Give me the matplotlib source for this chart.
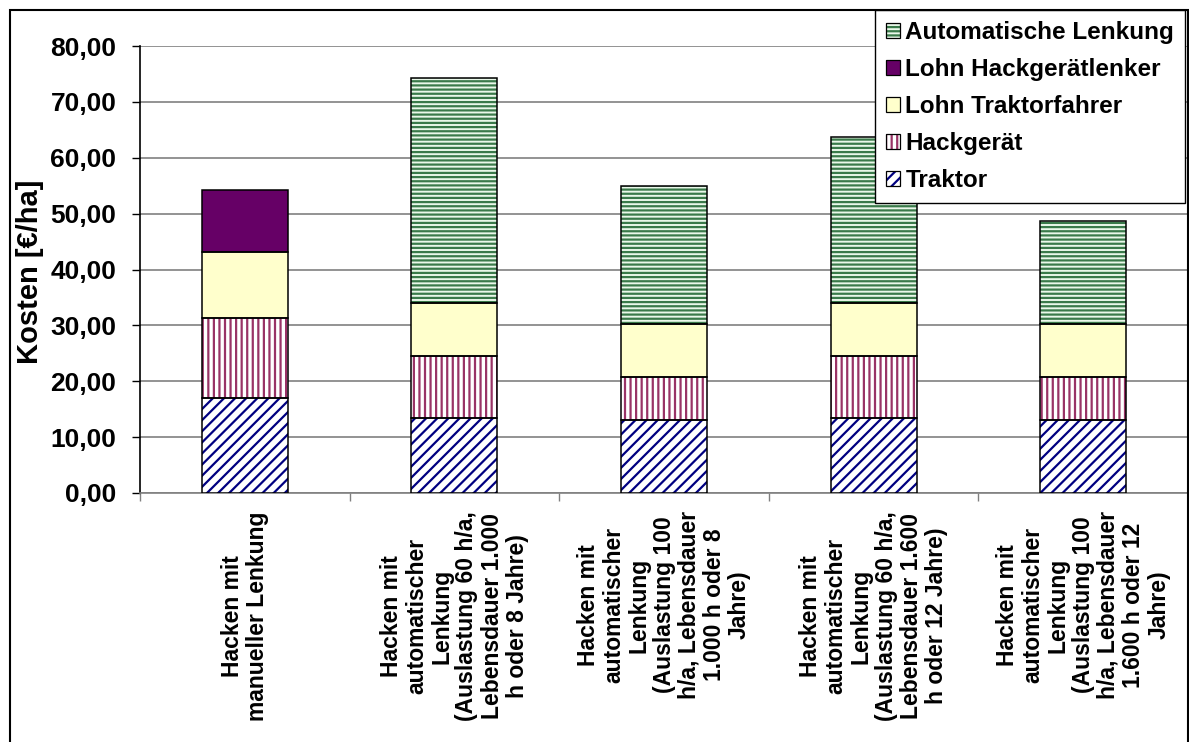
import matplotlib
matplotlib.use("Agg")
import matplotlib.pyplot as plt
from matplotlib.patches import Rectangle, Patch
from matplotlib.legend_handler import HandlerTuple
from matplotlib.ticker import FixedLocator, FuncFormatter
import numpy as np

# ---- data -------------------------------------------------------------
categories = [
    "Hacken mit\nmanueller Lenkung",
    "Hacken mit\nautomatischer\nLenkung\n(Auslastung 60 h/a,\nLebensdauer 1.000\nh oder 8 Jahre)",
    "Hacken mit\nautomatischer\nLenkung\n(Auslastung 100\nh/a, Lebensdauer\n1.000 h oder 8\nJahre)",
    "Hacken mit\nautomatischer\nLenkung\n(Auslastung 60 h/a,\nLebensdauer 1.600\nh oder 12 Jahre)",
    "Hacken mit\nautomatischer\nLenkung\n(Auslastung 100\nh/a, Lebensdauer\n1.600 h oder 12\nJahre)",
]
traktor = [17.0, 13.4, 13.1, 13.4, 13.1]
hackgeraet = [14.3, 11.1, 7.7, 11.1, 7.7]
lohn_traktorfahrer = [11.9, 9.5, 9.4, 9.5, 9.4]
lohn_hackgeraetlenker = [11.0, 0.0, 0.0, 0.0, 0.0]
automatische_lenkung = [0.0, 40.2, 24.7, 29.7, 18.4]

series_names = ["Traktor", "Hackgerät", "Lohn Traktorfahrer",
                "Lohn Hackgerätlenker", "Automatische Lenkung"]
series_values = [traktor, hackgeraet, lohn_traktorfahrer,
                 lohn_hackgeraetlenker, automatische_lenkung]
y_ticks = [0, 10, 20, 30, 40, 50, 60, 70, 80]

# ---- styles -------------------------------------------------------------
# (face colour, hatch pattern, hatch colour)
styles = [
    ("white", "///", "#000080"),
    ("white", "|||", "#993366"),
    ("#FFFFCC", "", None),
    ("#660066", "", None),
    ("#EAF8EA", "----", "#3A7A4A"),
]

plt.rcParams["font.family"] = ["Liberation Sans", "DejaVu Sans"]
plt.rcParams["font.weight"] = "bold"
plt.rcParams["hatch.linewidth"] = 1.6

W, H = 1189, 742
fig = plt.figure(figsize=(W / 100, H / 100), dpi=100)
ax = fig.add_axes([140 / W, 1 - 493 / H, 1048 / W, (493 - 46) / H])

x = np.arange(len(categories))
bar_w = 0.41
bottom = np.zeros(len(categories))
legend_handles = []
for name, vals, (fc, hatch, hc) in zip(series_names, series_values, styles):
    vals = np.asarray(vals)
    # pattern fill first, then a black outline on top of each segment
    if hatch:
        ax.bar(x, vals, bar_w, bottom=bottom, color=fc, hatch=hatch,
               edgecolor=hc, linewidth=0, zorder=3)
    else:
        ax.bar(x, vals, bar_w, bottom=bottom, color=fc, linewidth=0, zorder=3)
    mask = vals > 0
    ax.bar(x[mask], vals[mask], bar_w, bottom=bottom[mask], fill=False,
           edgecolor="black", linewidth=1.1, zorder=4)
    fill_proxy = Patch(facecolor=fc, hatch=hatch if hatch else None,
                       edgecolor=hc if hc else fc, linewidth=0)
    edge_proxy = Patch(facecolor="none", edgecolor="black", linewidth=0.9)
    legend_handles.append((fill_proxy, edge_proxy))
    bottom = bottom + vals

# ---- axes -------------------------------------------------------------
ax.set_xlim(-0.5, len(categories) - 0.5)
ax.set_ylim(0, 80)
ax.set_yticks(y_ticks)
ax.yaxis.set_major_formatter(FuncFormatter(lambda v, p: f"{v:.2f}".replace(".", ",")))
ax.tick_params(axis="y", labelsize=19, length=6, width=1, pad=11, color="black")
ax.yaxis.grid(True, color="#808080", linewidth=1.2, zorder=0)
ax.set_axisbelow(True)

ax.set_xticks(x)
ax.set_xticklabels(categories, rotation=90, ha="center", va="top",
                   multialignment="center", fontsize=16.5, linespacing=1.12)
ax.tick_params(axis="x", which="major", length=0, pad=13)
ax.xaxis.set_minor_locator(FixedLocator(np.arange(-0.5, len(categories), 1.0)))
ax.tick_params(axis="x", which="minor", length=6, width=1, color="#808080")

for side in ("top", "right"):
    ax.spines[side].set_visible(False)
ax.spines["left"].set_color("black")
ax.spines["left"].set_linewidth(1.2)
ax.spines["bottom"].set_color("#808080")
ax.spines["bottom"].set_linewidth(1.2)

ax.set_ylabel("Kosten [€/ha]", fontsize=21, fontweight="bold")
ax.yaxis.set_label_coords(-0.092, 0.494)

# ---- legend -----------------------------------------------------------
leg = ax.legend(legend_handles[::-1], series_names[::-1],
                handler_map={tuple: HandlerTuple(ndivide=1, pad=0)},
                loc="upper right", bbox_to_anchor=(1185 / W, 1 - 10 / H),
                bbox_transform=fig.transFigure, borderaxespad=0,
                fontsize=17.5, frameon=True, fancybox=False, framealpha=1,
                edgecolor="black", handlelength=0.6, handleheight=0.55,
                handletextpad=0.2, labelspacing=0.58, borderpad=0.45)
leg.get_frame().set_linewidth(1.0)
leg.set_zorder(10)

# outer chart border
fig.add_artist(Rectangle((9.5 / W, -0.1), (1187.5 - 9.5) / W, 1.1 - 10 / H,
                         transform=fig.transFigure, fill=False,
                         edgecolor="black", linewidth=1.5, clip_on=False))

fig.savefig("out.png", dpi=100)
